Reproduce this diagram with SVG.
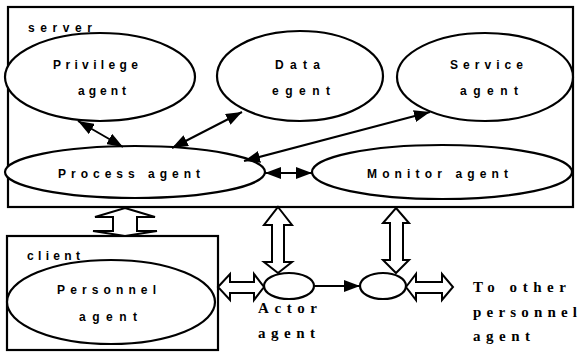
<svg xmlns="http://www.w3.org/2000/svg" width="580" height="352" viewBox="0 0 580 352">
  <defs>
    <marker id="head" markerUnits="userSpaceOnUse" markerWidth="16" markerHeight="12" refX="16" refY="6" orient="auto-start-reverse">
      <path d="M0,0 L16,6 L0,12 z" fill="#000"/>
    </marker>
    <style>
      .box { fill: none; stroke: #000; stroke-width: 2.2; }
      .node { fill: #fff; stroke: #000; stroke-width: 2.2; }
      .thin { stroke: #000; stroke-width: 2; fill: none; marker-start: url(#head); marker-end: url(#head); }
      .hollow { fill: #fff; stroke: #000; stroke-width: 2; stroke-linejoin: miter; }
      .s { font-family: "Liberation Sans", Arial, sans-serif; font-weight: bold; font-size: 12px; fill: #000; }
      .r { font-family: "Liberation Serif", "Times New Roman", serif; font-weight: bold; font-size: 15px; fill: #000; }
    </style>
  </defs>
  <rect width="580" height="352" fill="#fff"/>

  <!-- server container -->
  <g id="server">
    <rect class="box" x="8" y="7" width="565" height="200"/>
    <text class="s" x="28" y="32" textLength="64" lengthAdjust="spacing">server</text>
  </g>

  <!-- client container -->
  <g id="client">
    <rect class="box" x="7" y="236" width="211" height="114"/>
    <text class="s" x="27" y="260" textLength="53" lengthAdjust="spacing">client</text>
  </g>

  <g id="privilege-agent">
    <ellipse class="node" cx="100" cy="77" rx="95" ry="44"/>
    <text class="s" x="53" y="69" textLength="85" lengthAdjust="spacing">Privilege</text>
    <text class="s" x="78" y="95" textLength="48" lengthAdjust="spacing">agent</text>
  </g>

  <g id="data-agent">
    <ellipse class="node" cx="300" cy="76" rx="83" ry="45"/>
    <text class="s" x="275" y="69" textLength="45" lengthAdjust="spacing">Data</text>
    <text class="s" x="272" y="95" textLength="58" lengthAdjust="spacing">egent</text>
  </g>

  <g id="service-agent">
    <ellipse class="node" cx="485" cy="77" rx="88" ry="44"/>
    <text class="s" x="450" y="69" textLength="73" lengthAdjust="spacing">Service</text>
    <text class="s" x="460" y="95" textLength="58" lengthAdjust="spacing">agent</text>
  </g>

  <g id="process-agent">
    <ellipse class="node" cx="135" cy="172" rx="130" ry="26"/>
    <text class="s" x="58" y="178" textLength="142" lengthAdjust="spacing">Process agent</text>
  </g>

  <g id="monitor-agent">
    <ellipse class="node" cx="442" cy="172" rx="130" ry="27"/>
    <text class="s" x="367" y="178" textLength="141" lengthAdjust="spacing">Monitor agent</text>
  </g>

  <g id="personnel-agent">
    <ellipse class="node" cx="111" cy="302" rx="104" ry="42"/>
    <text class="s" x="57" y="294" textLength="99" lengthAdjust="spacing">Personnel</text>
    <text class="s" x="79" y="321" textLength="58" lengthAdjust="spacing">agent</text>
  </g>

  <g id="actor-agent">
    <ellipse class="node" cx="289" cy="286" rx="25" ry="13"/>
    <text class="r" x="258" y="313" textLength="59" lengthAdjust="spacing">Actor</text>
    <text class="r" x="258" y="338" textLength="57" lengthAdjust="spacing">agent</text>
  </g>

  <g id="relay-agent">
    <ellipse class="node" cx="383" cy="286" rx="23" ry="13"/>
  </g>

  <g id="other-personnel">
    <text class="r" x="473" y="292" textLength="93" lengthAdjust="spacing">To other</text>
    <text class="r" x="473" y="317" textLength="104" lengthAdjust="spacing">personnel</text>
    <text class="r" x="473" y="341" textLength="57" lengthAdjust="spacing">agent</text>
  </g>

  <!-- connectors -->
  <g id="connectors">
    <line class="thin" x1="78" y1="121" x2="123" y2="147"/>
    <line class="thin" x1="172" y1="148" x2="242" y2="112"/>
    <line class="thin" x1="244" y1="161" x2="430" y2="112"/>
    <line class="thin" x1="265" y1="173" x2="312" y2="173"/>
    <line x1="314" y1="286" x2="360" y2="286" stroke="#000" stroke-width="2" marker-end="url(#head)"/>

    <!-- hollow double arrows -->
    <polygon class="hollow" points="125,208 155,217 137,217 137,231 157,231 125,236 93,231 113,231 113,217 95,217"/>
    <polygon class="hollow" points="278,207 292,225 284,225 284,262 292,262 278,273 264,262 272,262 272,225 264,225"/>
    <polygon class="hollow" points="396,208 409,223 403,223 403,260 409,260 396,273 383,260 390,260 390,223 383,223"/>
    <polygon class="hollow" points="218,287 230,274 230,282 254,282 254,274 264,287 254,300 254,293 230,293 230,300"/>
    <polygon class="hollow" points="406,287 416,274 416,282 442,282 442,274 453,287 442,300 442,293 416,293 416,300"/>
  </g>
</svg>
